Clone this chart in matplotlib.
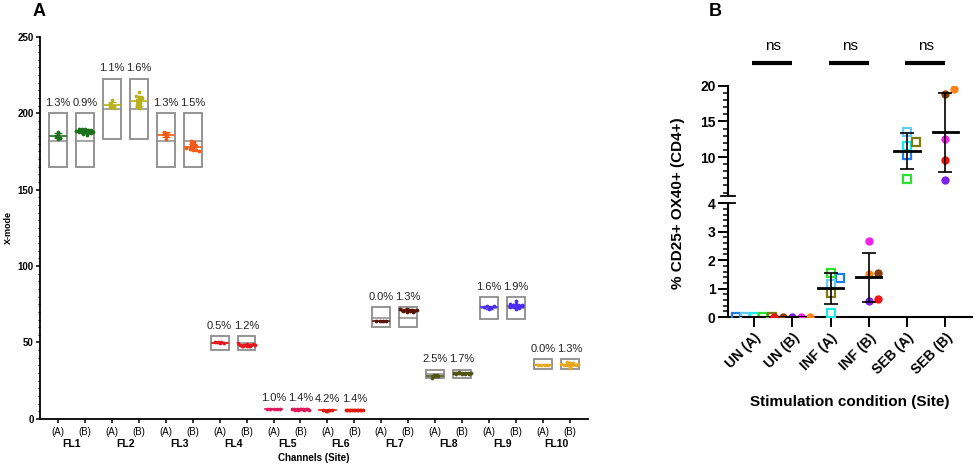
import numpy as np
import matplotlib
matplotlib.use('Agg')
import matplotlib.pyplot as plt
from matplotlib.patches import Rectangle
from matplotlib.ticker import MultipleLocator
import matplotlib.transforms as mtransforms

plt.rcParams['font.family'] = ['Liberation Sans', 'DejaVu Sans']

#################################################
#   PANEL A DATA  (X-mode per channel / site)
#################################################

channels = ['FL1', 'FL2', 'FL3', 'FL4', 'FL5', 'FL6', 'FL7', 'FL8', 'FL9', 'FL10']
site_labels = ['(A)', '(B)']
channel_colors = ['#1b6e1b', '#b8b21a', '#f05a14', '#e8191e', '#e01a5a',
                  '#e0190f', '#5a1408', '#4f5510', '#4a2cf0', '#e8a820']

fl1_a = [187.5, 186.5, 185, 183.5, 184]
fl1_b = [190, 190, 189.5, 189, 188.5, 188, 188, 187.5, 187, 187, 186.5, 186, 189, 188]
fl2_a = [209, 206, 205, 204, 203.5]
fl2_b = [214, 211, 210.5, 210, 209, 208.5, 208, 207, 206, 205, 204, 203.5]
fl3_a = [188, 187, 186.5, 185, 183, 186]
fl3_b = [182, 181, 180, 179, 178, 177, 176.5, 176, 176, 175.5, 177.5, 178.5]
fl4_a = [50, 50.5, 49.5, 50, 49.8]
fl4_b = [49.5, 48.5, 48, 47.5, 48.2, 48.8, 47.8, 48, 48.5, 49, 47.6, 48.3]
fl5_a = [6.5, 6.5, 6.4, 6.6, 6.5]
fl5_b = [6.2, 6.4, 6.0, 6.3, 6.1, 6.5, 6.2, 6.3, 6.0, 6.4, 6.2, 6.1]
fl6_a = [5.2, 5.8, 5.4, 5.9, 5.5]
fl6_b = [5.8, 5.6, 5.9, 5.7, 5.5, 5.8, 6.0, 5.6, 5.7, 5.9, 5.8, 5.7]
fl7_a = [64, 64, 64, 64]
fl7_b = [72, 71, 70.5, 71.5, 70, 72, 71, 70.5, 71.5, 70.8, 70, 71.2]
fl8_a = [27, 28, 28.5, 29, 28.2]
fl8_b = [30, 29.5, 30.2, 29.8, 30.5, 29.3, 30, 29.7, 30.1, 29.9, 30.3, 29.6]
fl9_a = [72, 73, 74, 72.5, 73.8]
fl9_b = [77, 75, 74.5, 73, 72, 74, 73.5, 75.5, 72.5, 74.2, 73.8, 74.8]
fl10_a = [35.5, 35.5, 35.5, 35.5]
fl10_b = [37, 36, 35.5, 35, 34, 36.5, 35.8, 36.2, 33, 35.3, 36.8, 35.7]

xmode_values = [fl1_a, fl1_b, fl2_a, fl2_b, fl3_a, fl3_b, fl4_a, fl4_b, fl5_a, fl5_b,
                fl6_a, fl6_b, fl7_a, fl7_b, fl8_a, fl8_b, fl9_a, fl9_b, fl10_a, fl10_b]

cv_labels = ['1.3%', '0.9%', '1.1%', '1.6%', '1.3%', '1.5%', '0.5%', '1.2%', '1.0%', '1.4%',
             '4.2%', '1.4%', '0.0%', '1.3%', '2.5%', '1.7%', '1.6%', '1.9%', '0.0%', '1.3%']

# acceptance window per channel (None = no window drawn)
range_low = [165, 183, 165, 45, None, None, 60, 26.5, 65.5, 32.5]
range_high = [200, 222.5, 200, 54, None, None, 73, 32, 79.5, 39]
range_target = [182, 203, 182, 49.5, None, None, 66, 29.5, 72.5, 35.5]

#################################################
#   PANEL B DATA  (% CD25+ OX40+ of CD4+)
#################################################

conditions = ['UN (A)', 'UN (B)', 'INF (A)', 'INF (B)', 'SEB (A)', 'SEB (B)']
# donors of site A (squares) and site B (circles)
site_a_colors = ['#1f7be8', '#66ccf5', '#1ee8f0', '#2fe02f', '#7f7a10']
site_b_colors = ['#f01010', '#8b3a0a', '#7a22e8', '#f022e8', '#ff8418']

un_a = [0, 0, 0, 0, 0]
un_b = [0, 0, 0, 0, 0]
inf_a = [1.36, 1.16, 0.15, 1.55, 0.83]
inf_b = [0.64, 1.55, 0.56, 2.67, 1.53]
seb_a = [10.3, 13.56, 11.6, 6.9, 12.15]
seb_b = [9.6, 18.8, 6.8, 12.6, 19.5]

group_values = [un_a, un_b, inf_a, inf_b, seb_a, seb_b]
sig_labels = ['ns', 'ns', 'ns']


def px_per_unit_x(ax):
    return ax.transData.transform((1, 0))[0] - ax.transData.transform((0, 0))[0]


def swarm_positions(ax, x0, values, min_dist, step):
    # simple beeswarm in pixel space
    vals = np.asarray(values, dtype=float)
    ypix = ax.transData.transform(np.column_stack([np.full(len(vals), x0), vals]))[:, 1]
    cands = [0.0]
    for k in range(1, 40):
        cands += [k * step, -k * step]
    placed = []
    xpix = np.zeros(len(vals))
    for i in np.argsort(ypix, kind='stable'):
        for c in cands:
            if all((c - px) ** 2 + (ypix[i] - py) ** 2 >= min_dist ** 2 for px, py in placed):
                break
        xpix[i] = c
        placed.append((c, ypix[i]))
    for v in np.unique(vals):
        idx = np.where(vals == v)[0]
        xpix[idx] = np.sort(xpix[idx])
    return x0 + xpix / px_per_unit_x(ax)


def row_positions(ax, x0, values, bin_px, step_px, max_px):
    # Prism-like dot plot: points in the same height bin sit side by side
    vals = np.asarray(values, dtype=float)
    ypix = ax.transData.transform(np.column_stack([np.full(len(vals), x0), vals]))[:, 1]
    bins = np.round(ypix / bin_px)
    xpix = np.zeros(len(vals))
    for b in np.unique(bins):
        idx = np.where(bins == b)[0]
        n = len(idx)
        step = step_px if n < 2 else min(step_px, max_px / (n - 1))
        xpix[idx] = (np.arange(n) - (n - 1) / 2) * step
    return x0 + xpix / px_per_unit_x(ax)


fig = plt.figure(figsize=(9.75, 4.67), dpi=100)

#################################################
#   PANEL A
#################################################

axA = fig.add_axes([0.041, 0.103, 0.562, 0.818])
positions = np.arange(len(xmode_values))
axA.set_xlim(-0.67, len(positions) - 0.33)
axA.set_ylim(0, 250)

for c in range(len(channels)):
    if range_low[c] is None:
        continue
    for p in (2 * c, 2 * c + 1):
        axA.add_patch(Rectangle((p - 0.33, range_low[c]), 0.66, range_high[c] - range_low[c],
                                fill=False, edgecolor='#8c8c8c', lw=1.3, zorder=1))
        axA.plot([p - 0.33, p + 0.33], [range_target[c]] * 2, color='#8c8c8c', lw=1.1, zorder=1)

for p, vals in zip(positions, xmode_values):
    col = channel_colors[p // 2]
    xs = row_positions(axA, p, vals, 2.5, 3.2, 17)
    axA.plot(xs, vals, 'o', color=col, ms=2.7, mew=0, zorder=3)
    m = np.mean(vals)
    sd = np.std(vals, ddof=1)
    axA.plot([p - 0.3, p + 0.3], [m, m], color=col, lw=1.2, zorder=4)
    axA.errorbar(p, m, yerr=sd, color=col, lw=0.9, capsize=3, capthick=0.9, zorder=4)
    top = vals if range_low[p // 2] is None else [range_high[p // 2]]
    axA.annotate(cv_labels[p], (p, max(max(vals), max(top))), xytext=(0, 4),
                 textcoords='offset points', ha='center', va='bottom', fontsize=8,
                 color='#222222')

axA.spines['top'].set_visible(False)
axA.spines['right'].set_visible(False)
axA.spines['left'].set_linewidth(1.3)
axA.spines['bottom'].set_linewidth(1.3)
axA.yaxis.set_major_locator(MultipleLocator(50))
axA.yaxis.set_minor_locator(MultipleLocator(5))
axA.tick_params(axis='y', which='major', length=3, width=1.1, pad=1.5, labelsize=7)
axA.tick_params(axis='y', which='minor', length=1.8, width=0.9)
for lab in axA.get_yticklabels():
    lab.set_fontweight('bold')
axA.set_xticks(positions)
axA.set_xticklabels(site_labels * len(channels), fontsize=7)
axA.tick_params(axis='x', length=3, width=1.1, pad=2.5)
axA.set_ylabel('X-mode', fontsize=6.5, fontweight='bold', labelpad=3)

trA = mtransforms.blended_transform_factory(axA.transData, axA.transAxes)
for c, name in enumerate(channels):
    axA.text(2 * c + 0.5, -0.065, name, transform=trA, ha='center', va='center',
             fontsize=7.5, fontweight='bold')
axA.text(0.5, -0.102, 'Channels (Site)', transform=axA.transAxes, ha='center', va='center',
         fontsize=7, fontweight='bold')

fig.text(39 / 975, 1 - 12 / 467, 'A', fontsize=13, fontweight='bold', ha='center', va='center')

#################################################
#   PANEL B  (broken y axis)
#################################################

axB_lo = fig.add_axes([0.7467, 0.321, 0.2503, 0.244])
axB_hi = fig.add_axes([0.7467, 0.580, 0.2503, 0.236], sharex=axB_lo)
xB = np.arange(len(conditions))
axB_lo.set_xlim(-0.68, len(conditions) - 0.3)
axB_lo.set_ylim(0, 4)
axB_hi.set_ylim(4.5, 20)

for ax in (axB_lo, axB_hi):
    for g, vals in enumerate(group_values):
        site_a = (g % 2 == 0)
        cols = site_a_colors if site_a else site_b_colors
        ref_ax = axB_hi if np.mean(vals) > 4 else axB_lo
        xs = swarm_positions(ref_ax, g, vals, 7.5, 4.5)
        for x, v, col in zip(xs, vals, cols):
            if site_a:
                ax.plot(x, v, 's', ms=5.3, mfc='none', mec=col, mew=1.6, zorder=3)
            else:
                ax.plot(x, v, 'o', ms=6, color=col, mew=0, zorder=3)
        m = np.mean(vals)
        sd = np.std(vals, ddof=1)
        ax.plot([g - 0.33, g + 0.33], [m, m], color='black', lw=2, zorder=4)
        ax.errorbar(g, m, yerr=sd, color='black', lw=1.2, capsize=5, capthick=1.2, zorder=4)

for ax in (axB_lo, axB_hi):
    ax.spines['top'].set_visible(False)
    ax.spines['right'].set_visible(False)
    ax.spines['left'].set_linewidth(1.5)
    ax.spines['bottom'].set_linewidth(1.5)
    ax.tick_params(axis='y', which='major', length=7, width=1.4, pad=2, labelsize=10)
    ax.tick_params(axis='y', which='minor', length=3.5, width=1.1)

axB_hi.spines['bottom'].set_visible(False)
axB_hi.tick_params(axis='x', which='both', bottom=False, labelbottom=False)
axB_hi.set_yticks([10, 15, 20])
axB_hi.yaxis.set_minor_locator(MultipleLocator(1))
axB_lo.set_yticks([0, 1, 2, 3, 4])
axB_lo.yaxis.set_minor_locator(MultipleLocator(0.2))
axB_lo.set_xticks(xB)
axB_lo.set_xticklabels(conditions, rotation=45, ha='right', rotation_mode='anchor',
                       fontsize=10, fontweight='bold')
axB_lo.tick_params(axis='x', length=7, width=1.4, pad=3)
for ax in (axB_lo, axB_hi):
    for lab in ax.get_yticklabels():
        lab.set_fontweight('bold')

# break marks on the y axis
axB_hi.plot([-0.03, 0.03], [0, 0], color='black', lw=1.3, transform=axB_hi.transAxes, clip_on=False)
axB_lo.plot([-0.03, 0.03], [1, 1], color='black', lw=1.3, transform=axB_lo.transAxes, clip_on=False)

axB_lo.set_xlabel('Stimulation condition (Site)', fontsize=11, fontweight='bold', labelpad=13)
fig.text(678 / 975, 1 - 203 / 467, '% CD25+ OX40+ (CD4+)', rotation=90, fontsize=11,
         fontweight='bold', ha='center', va='center')

trB = mtransforms.blended_transform_factory(axB_hi.transData, axB_hi.transAxes)
for k, lab in enumerate(sig_labels):
    axB_hi.plot([2 * k - 0.05, 2 * k + 1], [1.21, 1.21], color='black', lw=3,
                transform=trB, clip_on=False, solid_capstyle='butt')
    axB_hi.text(2 * k + 0.5, 1.36, lab, transform=trB, ha='center', va='center', fontsize=11)

fig.text(715 / 975, 1 - 12 / 467, 'B', fontsize=13, fontweight='bold', ha='center', va='center')

plt.savefig('out.png', dpi=100)
